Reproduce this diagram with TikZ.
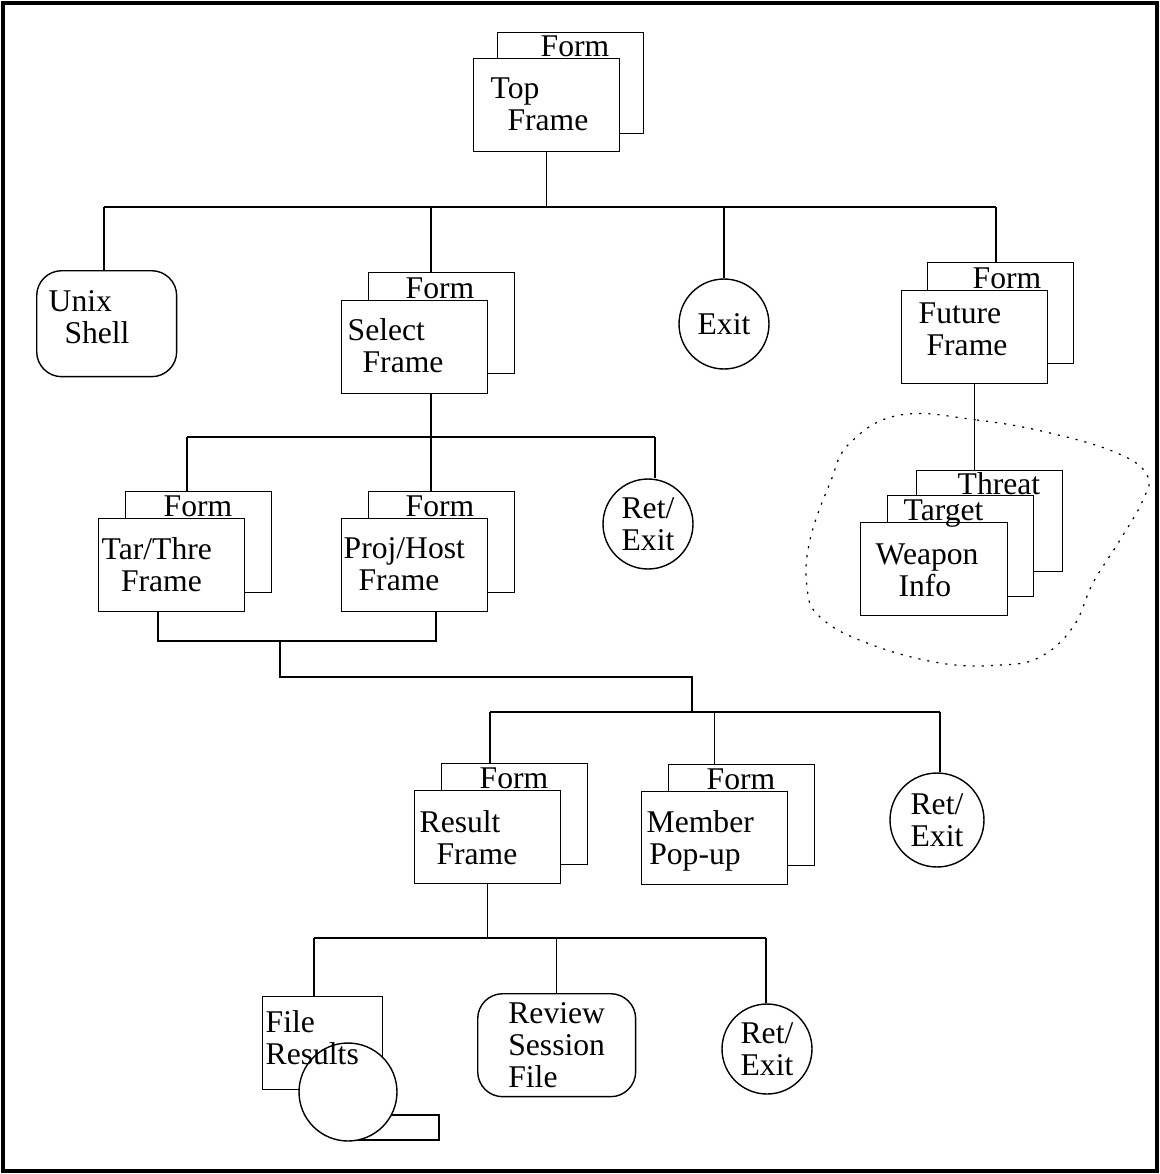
\documentclass[tikz,border=0pt]{standalone}
\usepackage{fontspec}
\setmainfont{Liberation Serif}
\usepackage{tikz}
\newcommand{\diafont}{\fontsize{18}{18.2}\selectfont}

\begin{document}
\begin{tikzpicture} %Grafica de ventanas
  [
    x=0.02cm, y=-0.02cm, line width=0.8pt,
    % Estilos de las cajas para no repetir codigo
    back/.style={draw, fill=white, anchor=north west, minimum width=2.92cm, minimum height=2.02cm, inner sep=0pt},
    front/.style={draw, fill=white, anchor=north west, minimum width=2.92cm, minimum height=1.86cm, inner sep=0pt},
    txt/.style={anchor=north west, align=left, inner sep=0pt, font=\diafont},
    forml/.style={anchor=base west, inner sep=0pt, font=\diafont},
    exitc/.style={circle, draw, minimum size=1.8cm, inner sep=0pt, align=center, font=\diafont},
    rbox/.style={draw, rounded corners=0.5cm, anchor=north west, inner sep=0pt, align=left, font=\diafont}
  ]
  \useasboundingbox (0,0) rectangle (1160,1174);
  \draw[line width=1.8pt] (3,3) rectangle (1157,1171);

  % zona punteada
  \draw[line width=0.7pt, dash pattern=on 1.2pt off 4pt] plot[smooth cycle, tension=0.7] coordinates
    {(900,415) (977,420) (1050,433) (1117,453) (1147,475) (1143,500) (1120,540) (1093,583) (1073,627)
     (1040,657) (1000,665) (940,663) (867,643) (820,617) (807,587) (810,540) (830,483) (850,443)};

  % nivel 1
  \node[back] (topb) at (497,32) {};
  \node[front] (top) at (473,58) {};
  \node[forml] (topl) at (540,56) {Form};
  \node[txt] (topt) at (490,77) {Top\\\hspace*{9.6pt}Frame};

  % nivel 2
  \node[rbox, minimum width=2.8cm, minimum height=2.12cm] (unix) at (36,270) {};
  \node[txt] (unixt) at (48,290) {Unix\\\hspace*{9pt}Shell};

  \node[back] (selb) at (368,272) {};
  \node[front] (sel) at (341,300) {};
  \node[forml] (sell) at (405,298) {Form};
  \node[txt] (selt) at (347,318) {Select\\\hspace*{8.5pt}Frame};

  \node[exitc] (exit) at (724,324) {Exit};

  \node[back] (futb) at (927,262) {};
  \node[front] (fut) at (901,290) {};
  \node[forml] (futl) at (972,288) {Form};
  \node[txt] (futt) at (918,302) {Future\\\hspace*{4.5pt}Frame};

  \node[back] (thr) at (916,470) {};
  \node[back] (tgt) at (887,495) {};
  \node[forml] (thrl) at (957,494) {Threat};
  \node[front, minimum width=2.94cm] (wpn) at (860,522) {};
  \node[forml] (tgtl) at (903,520) {Target};
  \node[txt] (wpnt) at (875,543) {Weapon\\\hspace*{13pt}Info};

  % nivel 3
  \node[back] (tarb) at (125,491) {};
  \node[front] (tar) at (98,518) {};
  \node[forml] (tarl) at (163,516) {Form};
  \node[txt] (tart) at (101,537) {Tar/Thre\\\hspace*{11pt}Frame};

  \node[back] (projb) at (368,491) {};
  \node[front] (proj) at (341,518) {};
  \node[forml] (projl) at (405,516) {Form};
  \node[txt] (projt) at (343,537) {Proj/Host\\\hspace*{8.5pt}Frame};

  \node[exitc] (ret1) at (648,524) {Ret/\\Exit};

  % nivel 4
  \node[back] (resb) at (441,763) {};
  \node[front] (res) at (414,790) {};
  \node[forml] (resl) at (479,788) {Form};
  \node[txt] (rest) at (419,810) {Result\\\hspace*{9.6pt}Frame};

  \node[back] (memb) at (668,764) {};
  \node[front] (mem) at (641,791) {};
  \node[forml] (meml) at (706,789) {Form};
  \node[txt] (memt) at (646,810) {Member\\\hspace*{1.5pt}Pop-up};

  \node[exitc, minimum size=1.88cm] (ret2) at (937,820) {Ret/\\Exit};

  % nivel 5
  \node[draw, anchor=north west, minimum width=2.4cm, minimum height=1.86cm, inner sep=0pt] (fileb) at (262,996) {};
  \draw (348,1115) -| (439,1140) -- (348,1140);
  \node[circle, draw, fill=white, minimum size=1.96cm, inner sep=0pt] (filed) at (348,1092) {};
  \node[txt] (filet) at (265,1010) {File\\Results};

  \node[rbox, minimum width=3.16cm, minimum height=2.06cm] (rev) at (477,993) {Review\\Session\\File};

  \node[exitc] (ret3) at (767,1049) {Ret/\\Exit};

  % conexiones
  \coordinate (b1w) at (104,207);
  \coordinate (b1e) at (996,207);
  \coordinate (s1) at (431,207);
  \draw (top.south) -- (top.south |- b1w);
  \draw (b1w) -- (b1e);
  \draw (b1w) -- (b1w |- unix.north);
  \draw (s1) -- (s1 |- selb.north);
  \draw (exit.north |- b1w) -- (exit.north);
  \draw (b1e) -- (b1e |- futb.north);
  \draw (fut.south) -- (fut.south |- thr.north);

  \coordinate (b2w) at (187,437);
  \coordinate (b2e) at (655,437);
  \draw (s1 |- sel.south) -- (s1 |- b2w);
  \draw (b2w) -- (b2e);
  \draw (b2w) -- (b2w |- tarb.north);
  \draw (s1 |- b2w) -- (s1 |- projb.north);
  \draw (b2e) -- (b2e |- ret1.north);

  \coordinate (j1) at (158,641);
  \coordinate (j2) at (436,641);
  \coordinate (j3) at (280,641);
  \coordinate (b3c) at (692,712);
  \draw (j1 |- tar.south) -- (j1) -- (j2) -- (j2 |- proj.south);
  \draw (j3) -- ++(0,36) -| (b3c);

  \coordinate (b3w) at (490,712);
  \coordinate (b3e) at (940,712);
  \draw (b3w) -- (b3e);
  \draw (b3w) -- (b3w |- resb.north);
  \draw (mem.north |- b3w) -- (mem.north |- memb.north);
  \draw (b3e) -- (b3e |- ret2.north);

  \coordinate (b4w) at (314,938);
  \coordinate (b4e) at (766,938);
  \draw (res.south) -- (res.south |- b4w);
  \draw (b4w) -- (b4e);
  \draw (b4w) -- (b4w |- fileb.north);
  \draw (rev.north |- b4w) -- (rev.north);
  \draw (b4e) -- (b4e |- ret3.north);

\end{tikzpicture}
\end{document}
